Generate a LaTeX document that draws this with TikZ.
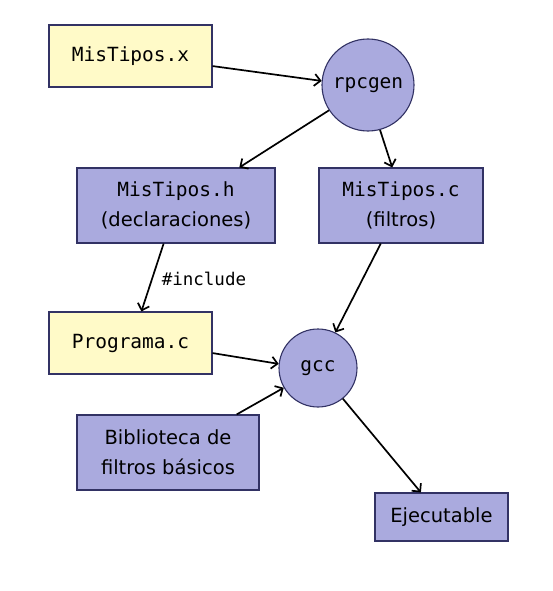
\documentclass[tikz,border=0pt]{standalone}
\usepackage{fontspec}
\setmainfont{DejaVu Sans}
\newfontfamily\monof{DejaVu Sans Mono}
\usetikzlibrary{arrows.meta}
\definecolor{yel}{RGB}{255,250,200}
\definecolor{pur}{RGB}{170,170,222}
\definecolor{edge}{RGB}{50,50,100}
\begin{document}
\begin{tikzpicture}[x=1pt,y=-1pt,
  boxy/.style={draw=edge,line width=1.1pt,fill=yel,rectangle,inner sep=0pt,align=center,font=\fontsize{19.5}{30}\selectfont\monof},
  boxp/.style={draw=edge,line width=1.1pt,fill=pur,rectangle,inner sep=0pt,align=center,font=\fontsize{19.5}{30}\selectfont},
  proc/.style={draw=edge,line width=1.1pt,fill=pur,circle,inner sep=0pt,font=\fontsize{19.5}{30}\selectfont\monof},
  arr/.style={-{Straight Barb[length=6pt,width=12pt]},line width=1.7pt,black}]
\useasboundingbox (0,0) rectangle (552,591);
\node[boxy,minimum width=163pt,minimum height=62pt] (mx) at (130.5,56) {MisTipos.x};
\node[proc,minimum size=92pt] (rpc) at (368,85) {rpcgen};
\node[boxp,minimum width=198pt,minimum height=75pt] (mh) at (176,205.5) {{\monof MisTipos.h}\\(declaraciones)};
\node[boxp,minimum width=164pt,minimum height=75pt] (mc) at (401,205.5) {{\monof MisTipos.c}\\(filtros)};
\node[boxy,minimum width=163pt,minimum height=62pt] (pc) at (130.5,343) {Programa.c};
\node[proc,minimum size=78pt] (gcc) at (318,368) {gcc};
\node[boxp,minimum width=182pt,minimum height=75pt] (bib) at (168,452.5) {Biblioteca de\\filtros básicos};
\node[boxp,minimum width=133pt,minimum height=48pt] (ej) at (441.5,517) {Ejecutable};
\draw[arr] (mx.-7.7) -- (rpc.175);
\draw[arr] (rpc.213) -- (mh.31.6);
\draw[arr] (rpc.-75) -- (mc.103.5);
\draw[arr] (mh.252.3) -- node[right,pos=0.45,xshift=4pt,yshift=-5pt,font=\fontsize{17.5}{20}\selectfont\monof] (inc) {\#include} (pc.71.3);
\draw[arr] (mc.242) -- (gcc.64.1);
\draw[arr] (pc.-7.7) -- (gcc.174);
\draw[arr] (bib.29.2) -- (gcc.210);
\draw[arr] (gcc.-51) -- (ej.130.5);
\end{tikzpicture}
\end{document}
